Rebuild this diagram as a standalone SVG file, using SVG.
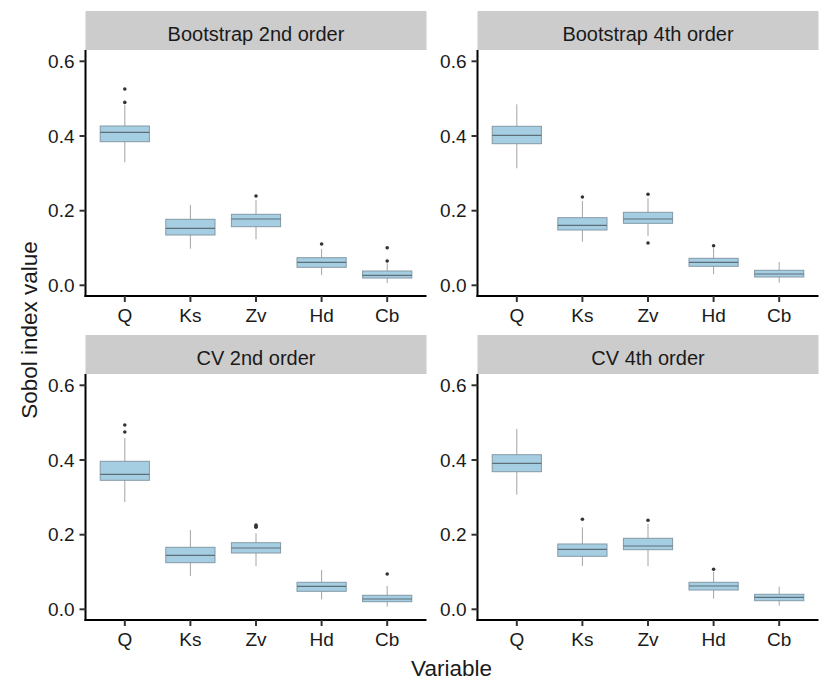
<svg xmlns="http://www.w3.org/2000/svg" width="830" height="692" viewBox="0 0 830 692">
<defs>
<style>
text{font-family:"Liberation Sans",Arial,Helvetica,sans-serif;fill:#1a1a1a}
.strip{fill:#cccccc}
.stxt{font-size:20px;text-anchor:middle}
.ytl{font-size:19px;text-anchor:end}
.xtl{font-size:19px;text-anchor:middle}
.title{font-size:22.5px;text-anchor:middle}
.axis{stroke:#000;stroke-width:2;fill:none}
.tick{stroke:#333;stroke-width:2}
.wh{stroke:#9a9a9a;stroke-width:0.9}
.bx{fill:#a6cee3;stroke:#8499a6;stroke-width:1}
.md{stroke:#5e6e77;stroke-width:1.2}
.out{fill:#333}
</style>
<g id="frame">
<rect class="strip" x="0" y="0" width="341" height="39"/>
<line class="axis" x1="0" y1="39" x2="0" y2="286"/>
<line class="axis" x1="-1" y1="285" x2="341" y2="285"/>
<line class="tick" x1="-6" y1="50.3" x2="0" y2="50.3"/>
<line class="tick" x1="-6" y1="125" x2="0" y2="125"/>
<line class="tick" x1="-6" y1="199.7" x2="0" y2="199.7"/>
<line class="tick" x1="-6" y1="274.3" x2="0" y2="274.3"/>
<line class="tick" x1="39.3" y1="285" x2="39.3" y2="291"/>
<line class="tick" x1="104.9" y1="285" x2="104.9" y2="291"/>
<line class="tick" x1="170.5" y1="285" x2="170.5" y2="291"/>
<line class="tick" x1="236.1" y1="285" x2="236.1" y2="291"/>
<line class="tick" x1="301.7" y1="285" x2="301.7" y2="291"/>
<text class="ytl" x="-11" y="57">0.6</text>
<text class="ytl" x="-11" y="131.7">0.4</text>
<text class="ytl" x="-11" y="206.4">0.2</text>
<text class="ytl" x="-11" y="281">0.0</text>
<text class="xtl" x="39.3" y="311">Q</text>
<text class="xtl" x="104.9" y="311">Ks</text>
<text class="xtl" x="170.5" y="311">Zv</text>
<text class="xtl" x="236.1" y="311">Hd</text>
<text class="xtl" x="301.7" y="311">Cb</text>
</g>
</defs>

<g id="panel-bootstrap-2nd" transform="translate(85.5,11)">
<use href="#frame"/>
<text class="stxt" x="170.5" y="29.5">Bootstrap 2nd order</text>
<g transform="translate(39.3,0)">
<line class="wh" x1="0" y1="94" x2="0" y2="151.3"/>
<rect class="bx" x="-24.6" y="115" width="49.2" height="15.7"/>
<line class="md" x1="-24.6" y1="121.3" x2="24.6" y2="121.3"/>
<circle class="out" cx="0" cy="78" r="1.8"/><circle class="out" cx="0" cy="91.4" r="1.8"/>
</g>
<g transform="translate(104.9,0)">
<line class="wh" x1="0" y1="194" x2="0" y2="237.7"/>
<rect class="bx" x="-24.6" y="208.3" width="49.2" height="15.7"/>
<line class="md" x1="-24.6" y1="217.3" x2="24.6" y2="217.3"/>
</g>
<g transform="translate(170.5,0)">
<line class="wh" x1="0" y1="189" x2="0" y2="228.3"/>
<rect class="bx" x="-24.6" y="203.3" width="49.2" height="12.4"/>
<line class="md" x1="-24.6" y1="208" x2="24.6" y2="208"/>
<circle class="out" cx="0" cy="185" r="1.8"/>
</g>
<g transform="translate(236.1,0)">
<line class="wh" x1="0" y1="238" x2="0" y2="264"/>
<rect class="bx" x="-24.6" y="246.7" width="49.2" height="9.6"/>
<line class="md" x1="-24.6" y1="251.3" x2="24.6" y2="251.3"/>
<circle class="out" cx="0" cy="233" r="1.8"/>
</g>
<g transform="translate(301.7,0)">
<line class="wh" x1="0" y1="252.5" x2="0" y2="272"/>
<rect class="bx" x="-24.6" y="260" width="49.2" height="7"/>
<line class="md" x1="-24.6" y1="264.3" x2="24.6" y2="264.3"/>
<circle class="out" cx="0" cy="236.7" r="1.8"/><circle class="out" cx="0" cy="250" r="1.8"/>
</g>
</g>

<g id="panel-bootstrap-4th" transform="translate(477.5,11)">
<use href="#frame"/>
<text class="stxt" x="170.5" y="29.5">Bootstrap 4th order</text>
<g transform="translate(39.3,0)">
<line class="wh" x1="0" y1="93.3" x2="0" y2="157.3"/>
<rect class="bx" x="-24.6" y="115.3" width="49.2" height="17.4"/>
<line class="md" x1="-24.6" y1="124.3" x2="24.6" y2="124.3"/>
</g>
<g transform="translate(104.9,0)">
<line class="wh" x1="0" y1="190" x2="0" y2="230.7"/>
<rect class="bx" x="-24.6" y="206.7" width="49.2" height="12.3"/>
<line class="md" x1="-24.6" y1="214.3" x2="24.6" y2="214.3"/>
<circle class="out" cx="0" cy="186" r="1.8"/>
</g>
<g transform="translate(170.5,0)">
<line class="wh" x1="0" y1="187.3" x2="0" y2="225"/>
<rect class="bx" x="-24.6" y="201.3" width="49.2" height="11"/>
<line class="md" x1="-24.6" y1="208" x2="24.6" y2="208"/>
<circle class="out" cx="0" cy="183.3" r="1.8"/><circle class="out" cx="0" cy="232" r="1.8"/>
</g>
<g transform="translate(236.1,0)">
<line class="wh" x1="0" y1="237.3" x2="0" y2="263.3"/>
<rect class="bx" x="-24.6" y="247.3" width="49.2" height="8"/>
<line class="md" x1="-24.6" y1="251.3" x2="24.6" y2="251.3"/>
<circle class="out" cx="0" cy="234.7" r="1.8"/>
</g>
<g transform="translate(301.7,0)">
<line class="wh" x1="0" y1="251" x2="0" y2="271.7"/>
<rect class="bx" x="-24.6" y="259.3" width="49.2" height="6.7"/>
<line class="md" x1="-24.6" y1="263" x2="24.6" y2="263"/>
</g>
</g>

<g id="panel-cv-2nd" transform="translate(85.5,335)">
<use href="#frame"/>
<text class="stxt" x="170.5" y="29.5">CV 2nd order</text>
<g transform="translate(39.3,0)">
<line class="wh" x1="0" y1="103" x2="0" y2="167"/>
<rect class="bx" x="-24.6" y="126.3" width="49.2" height="19"/>
<line class="md" x1="-24.6" y1="139.3" x2="24.6" y2="139.3"/>
<circle class="out" cx="0" cy="90" r="1.8"/><circle class="out" cx="0" cy="97" r="1.8"/>
</g>
<g transform="translate(104.9,0)">
<line class="wh" x1="0" y1="195" x2="0" y2="241"/>
<rect class="bx" x="-24.6" y="212.3" width="49.2" height="15.4"/>
<line class="md" x1="-24.6" y1="220.3" x2="24.6" y2="220.3"/>
</g>
<g transform="translate(170.5,0)">
<line class="wh" x1="0" y1="198.3" x2="0" y2="231"/>
<rect class="bx" x="-24.6" y="207.7" width="49.2" height="10.3"/>
<line class="md" x1="-24.6" y1="213" x2="24.6" y2="213"/>
<circle class="out" cx="0" cy="190" r="1.8"/><circle class="out" cx="0" cy="191.2" r="1.8"/><circle class="out" cx="0" cy="192.3" r="1.8"/>
</g>
<g transform="translate(236.1,0)">
<line class="wh" x1="0" y1="235" x2="0" y2="264.3"/>
<rect class="bx" x="-24.6" y="247.3" width="49.2" height="9"/>
<line class="md" x1="-24.6" y1="251.3" x2="24.6" y2="251.3"/>
</g>
<g transform="translate(301.7,0)">
<line class="wh" x1="0" y1="251" x2="0" y2="271.7"/>
<rect class="bx" x="-24.6" y="260.3" width="49.2" height="6.4"/>
<line class="md" x1="-24.6" y1="264" x2="24.6" y2="264"/>
<circle class="out" cx="0" cy="239" r="1.8"/>
</g>
</g>

<g id="panel-cv-4th" transform="translate(477.5,335)">
<use href="#frame"/>
<text class="stxt" x="170.5" y="29.5">CV 4th order</text>
<g transform="translate(39.3,0)">
<line class="wh" x1="0" y1="94" x2="0" y2="159.7"/>
<rect class="bx" x="-24.6" y="119.7" width="49.2" height="17"/>
<line class="md" x1="-24.6" y1="128.3" x2="24.6" y2="128.3"/>
</g>
<g transform="translate(104.9,0)">
<line class="wh" x1="0" y1="192.3" x2="0" y2="231"/>
<rect class="bx" x="-24.6" y="209" width="49.2" height="12.3"/>
<line class="md" x1="-24.6" y1="214.3" x2="24.6" y2="214.3"/>
<circle class="out" cx="0" cy="184.3" r="1.8"/>
</g>
<g transform="translate(170.5,0)">
<line class="wh" x1="0" y1="189" x2="0" y2="231"/>
<rect class="bx" x="-24.6" y="203.3" width="49.2" height="11.4"/>
<line class="md" x1="-24.6" y1="211" x2="24.6" y2="211"/>
<circle class="out" cx="0" cy="185.3" r="1.8"/>
</g>
<g transform="translate(236.1,0)">
<line class="wh" x1="0" y1="236.7" x2="0" y2="263.7"/>
<rect class="bx" x="-24.6" y="247.3" width="49.2" height="7.7"/>
<line class="md" x1="-24.6" y1="251" x2="24.6" y2="251"/>
<circle class="out" cx="0" cy="234.3" r="1.8"/>
</g>
<g transform="translate(301.7,0)">
<line class="wh" x1="0" y1="251.7" x2="0" y2="270.7"/>
<rect class="bx" x="-24.6" y="259.3" width="49.2" height="6.4"/>
<line class="md" x1="-24.6" y1="262.3" x2="24.6" y2="262.3"/>
</g>
</g>

<g id="connectors"/>

<g id="axis-titles">
<text class="title" x="451.5" y="676">Variable</text>
<text class="title" x="37" y="330" transform="rotate(-90 37 330)">Sobol index value</text>
</g>
</svg>
